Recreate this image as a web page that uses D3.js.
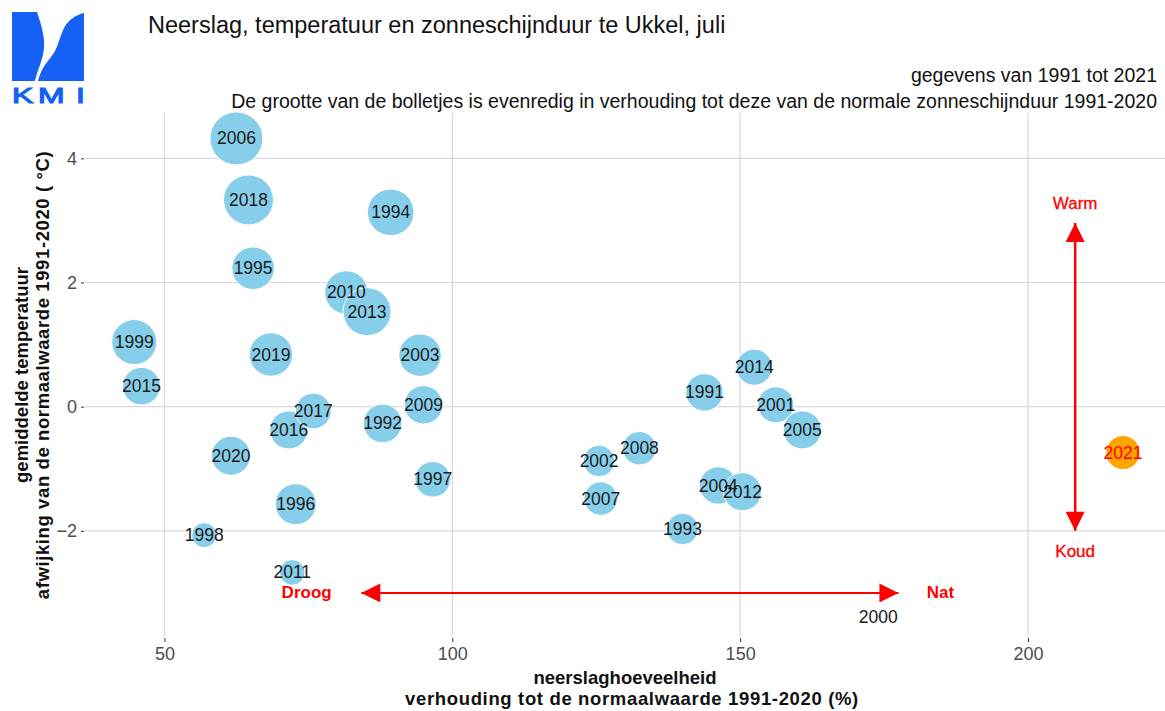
<!DOCTYPE html>
<html>
<head>
<meta charset="utf-8">
<script src="https://cdn.jsdelivr.net/npm/d3@7"></script>
<style>
  html, body { margin: 0; padding: 0; background: #fff; }
  svg { display: block; font-family: "Liberation Sans", Arial, Helvetica, sans-serif; }
</style>
</head>
<body>
<svg id="chart" width="1165" height="711"></svg>
<script>
// ---- data ----
const years    = [1991, 1992, 1993, 1994, 1995, 1996, 1997, 1998, 1999, 2000,
                  2001, 2002, 2003, 2004, 2005, 2006, 2007, 2008, 2009, 2010,
                  2011, 2012, 2013, 2014, 2015, 2016, 2017, 2018, 2019, 2020, 2021];
// precipitation, % of 1991-2020 normal
const rainfall = [143.8, 87.9, 140.0, 89.3, 65.4, 72.8, 96.6, 56.9, 44.75, 174.0,
                  156.2, 125.5, 94.4, 146.2, 160.8, 62.5, 125.8, 132.5, 95.0, 81.6,
                  72.2, 150.4, 85.2, 152.45, 46.0, 71.6, 75.85, 64.6, 68.5, 61.55, 216.5];
// mean temperature anomaly vs 1991-2020 (°C)
const tempAnom = [0.23, -0.27, -1.97, 3.13, 2.23, -1.57, -1.17, -2.07, 1.04, -3.38,
                  0.03, -0.875, 0.83, -1.27, -0.375, 4.32, -1.48, -0.67, 0.03, 1.84,
                  -2.67, -1.37, 1.53, 0.635, 0.33, -0.375, -0.07, 3.33, 0.84, -0.79, -0.74];
// sunshine duration, % of 1991-2020 normal
const sunshine = [102.6, 105.6, 89.4, 128.4, 116.4, 112.0, 98.3, 77.4, 123.5, 60.0,
                  99.2, 89.4, 115.9, 102.6, 104.1, 150.0, 93.3, 93.3, 105.1, 118.8,
                  78.4, 104.1, 132.9, 99.2, 103.1, 104.1, 98.3, 139.5, 118.8, 106.7, 94.6];
const highlightYear = 2021;
const xTicks = [50, 100, 150, 200];
const yTicks = [-2, 0, 2, 4];

const data = years.map((y, i) => ({year: y, rain: rainfall[i], temp: tempAnom[i], sun: sunshine[i]}));

// ---- layout ----
const svg = d3.select("#chart");
const P = {left: 85, right: 1165, top: 113, bottom: 637};
const FONT = '"Liberation Sans", Arial, Helvetica, sans-serif';

const x = d3.scaleLinear().domain([36.2, 223.8]).range([P.left, P.right]);
const y = d3.scaleLinear().domain([-3.71, 4.73]).range([P.bottom, P.top]);
// ggplot-like area scale: radius = rmin + (rmax-rmin)*sqrt(rescaled value)
const norm = d3.scaleLinear().domain(d3.extent(sunshine)).range([0, 1]);
const r = v => 1.5 + 25 * Math.sqrt(norm(v));

// ---- grid ----
const grid = svg.append("g");
grid.selectAll("line.vx").data(xTicks).join("line")
  .attr("x1", d => x(d)).attr("x2", d => x(d))
  .attr("y1", P.top).attr("y2", P.bottom)
  .attr("stroke", "#d9d9d9").attr("stroke-width", 1.2);
grid.selectAll("line.hy").data(yTicks).join("line")
  .attr("y1", d => y(d)).attr("y2", d => y(d))
  .attr("x1", P.left).attr("x2", P.right)
  .attr("stroke", "#d9d9d9").attr("stroke-width", 1.2);

// ---- axes ----
const xAxis = d3.axisBottom(x).tickValues(xTicks).tickSize(4).tickPadding(5).tickFormat(d3.format("d"));
const gx = svg.append("g").attr("transform", `translate(0,${P.bottom + 1})`).call(xAxis);
const yAxis = d3.axisLeft(y).tickValues(yTicks).tickSize(3).tickPadding(4).tickFormat(d3.format("d"));
const gy = svg.append("g").attr("transform", `translate(${P.left - 1},0)`).call(yAxis);
[gx, gy].forEach(g => {
  g.select(".domain").remove();
  g.selectAll(".tick line").attr("stroke", "#333").attr("stroke-width", 1);
  g.selectAll(".tick text").attr("fill", "#4d4d4d").style("font-size", "18px").style("font-family", FONT);
});

// ---- annotation arrows ----
const defs = svg.append("defs");
defs.append("marker").attr("id", "ah").attr("viewBox", "0 0 10 10")
  .attr("refX", 10).attr("refY", 5).attr("markerWidth", 22).attr("markerHeight", 19)
  .attr("markerUnits", "userSpaceOnUse").attr("orient", "auto-start-reverse")
  .append("path").attr("d", "M0,0 L10,5 L0,10 Z").attr("fill", "red");

const arrowH = {x1: 84.2, x2: 177.5, y: -3.0};
const arrowV = {x: 208.2, y1: -2.0, y2: 2.96};
svg.append("line")
  .attr("x1", x(arrowH.x1)).attr("x2", x(arrowH.x2))
  .attr("y1", y(arrowH.y)).attr("y2", y(arrowH.y))
  .attr("stroke", "red").attr("stroke-width", 2)
  .attr("marker-start", "url(#ah)").attr("marker-end", "url(#ah)");
svg.append("line")
  .attr("x1", x(arrowV.x)).attr("x2", x(arrowV.x))
  .attr("y1", y(arrowV.y1)).attr("y2", y(arrowV.y2))
  .attr("stroke", "red").attr("stroke-width", 2.5)
  .attr("marker-start", "url(#ah)").attr("marker-end", "url(#ah)");

const annLabels = [
  {t: "Droog", x: 74.7, y: -3.0},
  {t: "Nat",   x: 184.8, y: -3.0},
  {t: "Warm",  x: 208.2, y: 3.28},
  {t: "Koud",  x: 208.2, y: -2.34}
];
svg.append("g").selectAll("text").data(annLabels).join("text")
  .attr("x", d => x(d.x)).attr("y", d => y(d.y))
  .attr("text-anchor", "middle").attr("dominant-baseline", "central")
  .attr("fill", "red").style("font-size", "17px").style("font-family", FONT)
  .style("font-weight", d => (d.t === "Warm" || d.t === "Koud") ? "normal" : "bold")
  .style("stroke", d => (d.t === "Warm" || d.t === "Koud") ? "red" : "none")
  .style("stroke-width", 0.3)
  .text(d => d.t);

// ---- bubbles ----
svg.append("g").selectAll("circle").data(data).join("circle")
  .attr("cx", d => x(d.rain)).attr("cy", d => y(d.temp))
  .attr("r", d => r(d.sun))
  .attr("fill", d => d.year === highlightYear ? "#FFA500" : "#87CEEB")
  .attr("stroke", "#fff").attr("stroke-width", 1);

svg.append("g").selectAll("text").data(data).join("text")
  .attr("x", d => x(d.rain)).attr("y", d => y(d.temp))
  .attr("text-anchor", "middle").attr("dominant-baseline", "central")
  .attr("fill", d => d.year === highlightYear ? "red" : "#1a1a1a")
  .style("font-size", "17.5px").style("font-family", FONT)
  .text(d => d.year);

// ---- titles ----
svg.append("text").attr("x", 148).attr("y", 33)
  .style("font-size", "23.5px").style("font-family", FONT).attr("fill", "#111")
  .text("Neerslag, temperatuur en zonneschijnduur te Ukkel, juli");
svg.append("text").attr("x", 1157).attr("y", 82).attr("text-anchor", "end")
  .style("font-size", "19.5px").style("font-family", FONT).attr("fill", "#111")
  .text("gegevens van 1991 tot 2021");
svg.append("text").attr("x", 1157).attr("y", 108).attr("text-anchor", "end")
  .style("font-size", "19.5px").style("font-family", FONT).attr("fill", "#111")
  .text("De grootte van de bolletjes is evenredig in verhouding tot deze van de normale zonneschijnduur 1991-2020");

// axis titles
const xt = svg.append("text").attr("text-anchor", "middle")
  .style("font-size", "18.5px").style("font-weight", "bold").style("font-family", FONT).attr("fill", "#111");
xt.append("tspan").attr("x", (P.left + P.right) / 2).attr("y", 684).text("neerslaghoeveelheid");
xt.append("tspan").attr("x", (P.left + P.right) / 2 + 7).attr("y", 705).style("letter-spacing", "0.65px")
  .text("verhouding tot de normaalwaarde 1991-2020 (%)");

const cy = (P.top + P.bottom) / 2;
const yt = svg.append("text").attr("text-anchor", "middle")
  .attr("transform", `translate(0,${cy}) rotate(-90)`)
  .style("font-size", "18.5px").style("font-weight", "bold").style("font-family", FONT).attr("fill", "#111");
yt.append("tspan").attr("x", 0).attr("y", 28).text("gemiddelde temperatuur");
yt.append("tspan").attr("x", 0).attr("y", 49).style("letter-spacing", "0.6px")
  .text("afwijking van de normaalwaarde 1991-2020 ( °C)");

// ---- KMI logo ----
const logo = svg.append("g");
const blue = "#1560f5";
logo.append("path").attr("fill", blue)
  .attr("d", "M12,12 L37,12 C41,24 45,36 44,48 C43,60 38,68 35,81 L12,81 Z");
logo.append("path").attr("fill", blue)
  .attr("d", "M84,13 L84,81 L38,81 C40,72 45,64 51,57 C58,49 59,38 64,28 C69,19 76,15 84,13 Z");
const letters = [{c: "K", x: 12}, {c: "M", x: 38}, {c: "I", x: 76}];
logo.selectAll("text.kmi").data(letters).join("text")
  .attr("transform", d => `translate(${d.x},103) scale(1.45,1)`)
  .attr("fill", blue).attr("stroke", blue).attr("stroke-width", 1.1)
  .style("font-size", "22px").style("font-family", FONT)
  .text(d => d.c);
</script>
</body>
</html>
